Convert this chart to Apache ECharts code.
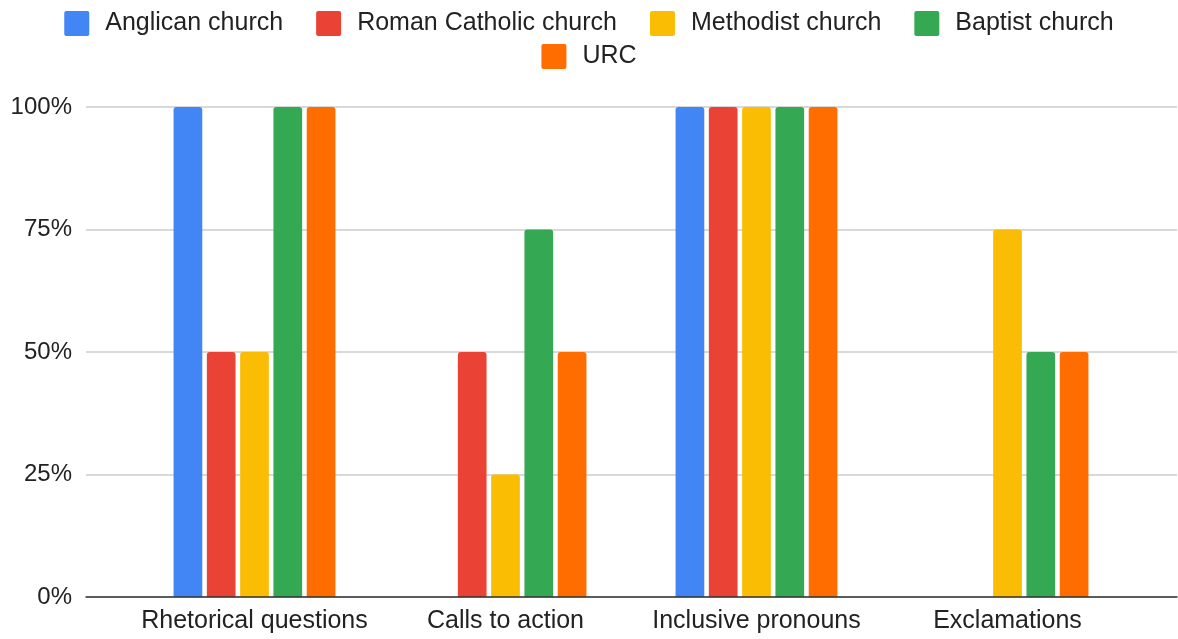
<!DOCTYPE html>
<html>
<head>
<meta charset="utf-8">
<script src="https://cdn.jsdelivr.net/npm/echarts@6/dist/echarts.min.js"></script>
<style>
    html, body { margin: 0; padding: 0; background: #fff; }
    #chart { width: 1178px; height: 639px; }
</style>
</head>
<body>
<div id="chart"></div>
<script>
    // data
    var categories = ['Rhetorical questions', 'Calls to action', 'Inclusive pronouns', 'Exclamations'];
    var seriesNames = ['Anglican church', 'Roman Catholic church', 'Methodist church', 'Baptist church', 'URC'];
    var anglican = [100, 0, 100, 0];
    var romanCatholic = [50, 50, 100, 0];
    var methodist = [50, 25, 100, 75];
    var baptist = [100, 75, 100, 50];
    var urc = [100, 50, 100, 50];
    var yTicks = [0, 25, 50, 75, 100];

    var colors = ['#4285f4', '#ea4335', '#fbbc04', '#34a853', '#ff6d01'];
    var values = [anglican, romanCatholic, methodist, baptist, urc];
    var font = '"Liberation Sans", Arial, sans-serif';
    // small rounded square for the legend
    var legendIcon = 'path://M2,0 H23 A2,2 0 0 1 25,2 V23 A2,2 0 0 1 23,25 H2 A2,2 0 0 1 0,23 V2 A2,2 0 0 1 2,0 Z';

    var chart = echarts.init(document.getElementById('chart'));

    var legendText = {
        color: '#222',
        fontSize: 25,
        fontFamily: font,
        lineHeight: 27,
        padding: [0, 0, 0, 11]
    };

    var series = [];
    seriesNames.forEach(function (name, i) {
        series.push({
            name: name,
            type: 'bar',
            xAxisIndex: 1,
            yAxisIndex: 1,
            data: values[i],
            barWidth: 28.7,
            barGap: '16%',
            itemStyle: {
                color: colors[i],
                borderRadius: [3, 3, 0, 0]
            }
        });
    });

    var options = {
        animation: false,
        color: colors,
        legend: [{
            data: seriesNames.slice(0, 4),
            left: 'center',
            top: 10,
            padding: 0,
            icon: legendIcon,
            itemWidth: 25,
            itemHeight: 25,
            itemGap: 33,
            textStyle: legendText
        }, {
            data: seriesNames.slice(4),
            left: 'center',
            top: 43,
            padding: 0,
            icon: legendIcon,
            itemWidth: 25,
            itemHeight: 25,
            itemGap: 33,
            textStyle: legendText
        }],
        grid: [
            {left: 86, right: 1, top: 107, bottom: 42},
            {left: 129, right: 45, top: 107, bottom: 42}
        ],
        xAxis: [{
            gridIndex: 0,
            type: 'category',
            data: [''],
            axisLine: {show: true, lineStyle: {color: '#333', width: 1.5}},
            axisTick: {show: false},
            axisLabel: {show: false},
            z: 5
        }, {
            gridIndex: 1,
            type: 'category',
            data: categories,
            axisLine: {show: false},
            axisTick: {show: false},
            axisLabel: {
                interval: 0,
                color: '#222',
                fontSize: 25,
                fontFamily: font,
                margin: 12
            }
        }],
        yAxis: [{
            gridIndex: 0,
            type: 'value',
            min: yTicks[0],
            max: yTicks[yTicks.length - 1],
            interval: 25,
            axisLine: {show: false},
            axisTick: {show: false},
            splitLine: {lineStyle: {color: '#cccccc', width: 1.5}},
            axisLabel: {
                color: '#222',
                fontSize: 24,
                fontFamily: font,
                margin: 14,
                formatter: '{value}%'
            }
        }, {
            gridIndex: 1,
            type: 'value',
            min: yTicks[0],
            max: yTicks[yTicks.length - 1],
            interval: 25,
            show: false
        }],
        series: series
    };

    chart.setOption(options);

    window.addEventListener('resize', function () {
        chart.resize();
    });
</script>
</body>
</html>
